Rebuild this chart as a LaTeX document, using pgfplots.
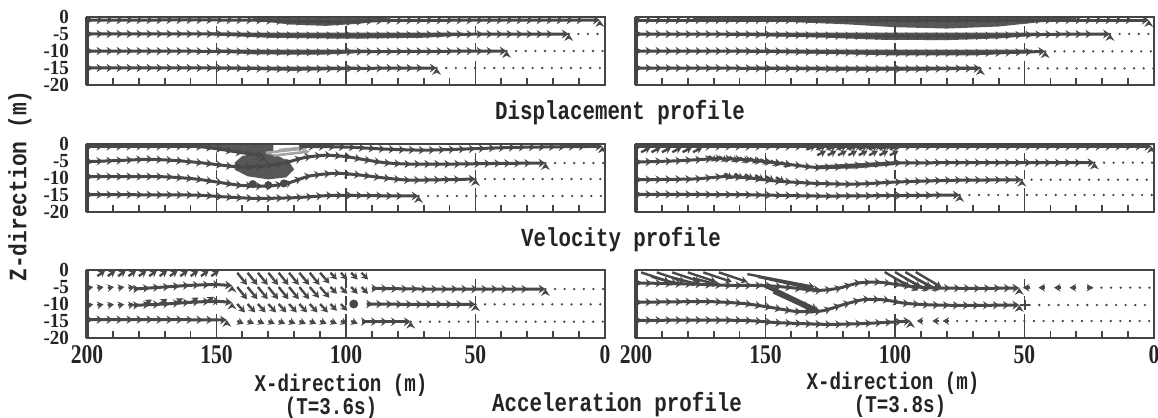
\documentclass[border=0pt]{standalone}
\usepackage{fontspec}
\usepackage{pgfplots}
\pgfplotsset{compat=1.18}
\usetikzlibrary{arrows.meta,decorations.markings}
\newfontfamily\labfont[FakeStretch=0.8]{Liberation Mono}
\newfontfamily\zfont[FakeStretch=0.85]{Liberation Mono}
\newfontfamily\tickfont[FakeStretch=0.8]{Liberation Serif}
\newfontfamily\ytickfont[FakeStretch=0.95]{Liberation Serif}
\definecolor{ink}{HTML}{484848}
\definecolor{frame}{HTML}{444444}
\definecolor{txt}{HTML}{242424}
\definecolor{streak}{HTML}{A5A5A5}

\pgfplotsset{
  panel/.style={
    scale only axis, width=259pt, height=34pt, anchor=south west,
    x dir=reverse, xmin=0, xmax=200, ymin=-20, ymax=0,
    xtick={0,50,100,150,200},
    minor xtick={10,20,30,40,60,70,80,90,110,120,130,140,160,170,180,190},
    ytick={-20,-15,-10,-5,0},
    xtick pos=bottom, ytick pos=left, tick align=inside,
    major tick length=12pt, minor tick length=3.5pt,
    ytick style={draw=none},
    xtick style={frame, line width=0.9pt},
    xticklabels={}, yticklabels={},
    axis line style={frame, line width=0.9pt},
    xticklabel style={font=\tickfont\bfseries\fontsize{13.5}{13.5}\selectfont, text=txt, yshift=0pt},
    yticklabel style={font=\ytickfont\bfseries\fontsize{10}{10}\selectfont, text=txt, xshift=-5.5pt, inner ysep=0pt},
    extra description/.code={
      \draw[frame, line width=2.4pt] (axis description cs:0,0) -- (axis description cs:0,1);
      \draw[frame, line width=1.3pt] (axis description cs:0,1) -- (axis description cs:1,1);
    },
  },
  chain/.style={ink, line width=1.5pt, line join=round, smooth, tension=0.4,
    -{Stealth[length=3.4pt,width=4.4pt]},
    postaction={decorate},
    decoration={markings, mark=between positions 3pt and -4pt step 5pt with {\arrow{Stealth[length=3.2pt,width=4.2pt]}}}},
  band/.style={fill=ink!92, draw=none},
  dotrow/.style={ink, line width=1.3pt, line cap=round, dash pattern=on 0pt off 4.8pt},
  vec/.style={ink, line width=1.2pt, -{Stealth[length=3.2pt,width=3.8pt]},
    quiver={u=\thisrow{u}, v=\thisrow{v}}},
  crossm/.style={only marks, mark=|, mark size=2.2pt, mark options={frame, line width=0.8pt}},
}

\begin{document}
\begin{tikzpicture}
\path[use as bounding box] (0,0) rectangle (579pt,209pt);

% ---------- displacement, T=3.6s
\begin{axis}[panel, at={(43.5pt,166.5pt)}, yticklabels={-20,-15,-10,-5,0}]
\addplot[band] coordinates {(136,-0.2)(84,-0.2)(84,-0.9)(95,-2.0)(108,-2.6)(122,-2.2)(136,-0.9)} -- cycle;
\addplot[band] coordinates {(152,-4.6)(55,-4.6)(55,-5.5)(70,-6.1)(100,-6.4)(130,-6.1)(152,-5.4)} -- cycle;
\addplot[band] coordinates {(150,-9.6)(92,-9.6)(92,-10.5)(110,-11.1)(135,-11)(150,-10.4)} -- cycle;
\addplot[band] coordinates {(148,-14.6)(96,-14.6)(96,-15.3)(120,-15.8)(148,-15.3)} -- cycle;
\addplot[chain] coordinates {(200,-0.9)(140,-0.9)(120,-1.3)(100,-1.4)(80,-1.0)(2,-0.9)};
\addplot[chain] coordinates {(200,-5)(150,-5)(120,-5.4)(90,-5.4)(60,-5.1)(14,-5)};
\addplot[chain] coordinates {(200,-10)(150,-10.1)(120,-10.4)(95,-10.2)(38,-10)};
\addplot[chain] coordinates {(200,-15)(150,-15)(120,-15.3)(95,-15.1)(65,-15)};
\addplot[dotrow] coordinates {(14,-5)(0,-5)};
\addplot[dotrow] coordinates {(38,-10)(0,-10)};
\addplot[dotrow] coordinates {(65,-15)(0,-15)};
\addplot[crossm] coordinates {(150,-4)(150,-9)(100,-4)(100,-9)(50,-4)(50,-9)};
\end{axis}

% ---------- displacement, T=3.8s
\begin{axis}[panel, at={(318pt,166.5pt)}]
\addplot[band] coordinates {(178,-0.2)(30,-0.2)(30,-0.8)(45,-1.6)(60,-2.8)(80,-3.4)(100,-3.0)(120,-2.1)(150,-1.2)(178,-0.7)} -- cycle;
\addplot[band] coordinates {(165,-4.6)(44,-4.6)(44,-5.4)(60,-6.3)(80,-6.8)(105,-6.7)(130,-6.0)(165,-5.4)} -- cycle;
\addplot[band] coordinates {(160,-9.6)(47,-9.6)(47,-10.5)(70,-11.3)(100,-11.3)(130,-10.8)(160,-10.4)} -- cycle;
\addplot[band] coordinates {(157,-14.6)(67,-14.6)(67,-15.3)(90,-15.8)(120,-15.8)(157,-15.3)} -- cycle;
\addplot[chain] coordinates {(200,-0.9)(120,-0.9)(60,-0.9)(2,-0.9)};
\addplot[chain] coordinates {(200,-5)(160,-5.1)(110,-5.6)(70,-5.6)(40,-5.1)(17,-5)};
\addplot[chain] coordinates {(200,-10)(150,-10.1)(100,-10.6)(60,-10.5)(42,-10.1)};
\addplot[chain] coordinates {(200,-15)(150,-15.1)(110,-15.3)(67,-15.1)};
\addplot[dotrow] coordinates {(17,-5)(0,-5)};
\addplot[dotrow] coordinates {(42,-10.1)(0,-10.1)};
\addplot[dotrow] coordinates {(67,-15.1)(0,-15.1)};
\addplot[crossm] coordinates {(150,-4)(150,-9)(100,-4)(100,-9)(50,-4)(50,-9)};
\end{axis}

% ---------- velocity, T=3.6s
\begin{axis}[panel, at={(43.5pt,103pt)}, yticklabels={-20,-15,-10,-5,0}]
\addplot[band] coordinates {(158,-0.2)(128,-0.2)(128,-2.6)(132,-3.5)(140,-2.8)(150,-1.6)(158,-0.6)} -- cycle;
\addplot[band] coordinates {(143,-5.5)(140,-3.5)(134,-2.8)(127,-3.2)(122,-5.2)(120,-7.5)(123,-9.8)(130,-10.4)(138,-9.5)(143,-7.5)} -- cycle;
\addplot[vec, streak, line width=1.3pt] table[row sep=\\] {x y u v\\
131 -2.6 -16 1.4\\ 128 -3.4 -14 1.2\\ 126 -1.8 -10 0.8\\};
\addplot[chain] coordinates {(200,-0.7)(160,-0.7)(150,-1.4)(140,-2.6)(132,-3.3)};
\addplot[chain] coordinates {(118,-0.7)(100,-0.9)(85,-1.5)(70,-1.8)(55,-1.5)(35,-1.0)(15,-0.8)(1,-0.7)};
\addplot[chain] coordinates {(200,-5.2)(186,-4.8)(176,-4.5)(165,-4.9)(155,-5.6)(146,-6.4)(140,-6.8)(132,-6.5)(124,-5.6)(116,-4.0)(108,-3.3)(100,-3.7)(93,-4.6)(85,-5.5)(76,-5.9)(60,-5.9)(40,-5.7)(23,-5.6)};
\addplot[chain] coordinates {(200,-9.6)(172,-9.6)(158,-10.3)(148,-11.4)(140,-12.2)(130,-12.4)(122,-11.4)(114,-9.4)(104,-8.6)(95,-9.1)(85,-10)(76,-10.6)(62,-10.5)(50,-10.3)};
\addplot[chain] coordinates {(200,-14.9)(160,-15)(148,-15.5)(135,-16)(120,-15.8)(105,-15.1)(90,-15.2)(72,-15.3)};
\addplot[only marks, mark=*, mark size=1.8pt, ink] coordinates {(136,-11.8)(130,-12.1)(124,-11.6)};
\addplot[dotrow] coordinates {(23,-5.6)(0,-5.6)};
\addplot[dotrow] coordinates {(50,-10.3)(0,-10.3)};
\addplot[dotrow] coordinates {(72,-15.3)(0,-15.3)};
\addplot[crossm] coordinates {(150,-4)(150,-9)(100,-4)(100,-9)(50,-4)(50,-9)};
\end{axis}

% ---------- velocity, T=3.8s
\begin{axis}[panel, at={(318pt,103pt)}]
\addplot[band] coordinates {(130,-6.3)(100,-5.1)(100,-6.2)(115,-7.2)(130,-7.4)} -- cycle;
\addplot[chain] coordinates {(200,-0.7)(100,-0.7)(1,-0.7)};
\addplot[vec] table[row sep=\\] {x y u v\\
198 -2.4 -3.6 1.4\\ 194 -2.4 -3.6 1.4\\ 190 -2.4 -3.6 1.4\\ 186 -2.4 -3.6 1.4\\ 182 -2.4 -3.6 1.4\\ 178 -2.4 -3.6 1.4\\
134 -1.6 -3.4 1.1\\ 130 -1.6 -3.4 1.1\\ 126 -1.6 -3.4 1.1\\ 122 -1.6 -3.4 1.1\\ 118 -1.6 -3.4 1.1\\ 114 -1.6 -3.4 1.1\\ 110 -1.6 -3.4 1.1\\ 106 -1.6 -3.4 1.1\\ 102 -1.6 -3.4 1.1\\
130 -3.3 -3.4 1.3\\ 126 -3.3 -3.4 1.3\\ 122 -3.3 -3.4 1.3\\ 118 -3.3 -3.4 1.3\\ 114 -3.3 -3.4 1.3\\ 110 -3.3 -3.4 1.3\\ 106 -3.3 -3.4 1.3\\ 102 -3.3 -3.4 1.3\\
172 -3.6 -3.5 -1.4\\ 168 -3.7 -3.5 -1.4\\ 164 -3.8 -3.5 -1.4\\ 160 -4.0 -3.5 -1.4\\ 156 -4.2 -3.5 -1.4\\ 152 -4.5 -3.5 -1.4\\ 148 -4.9 -3.5 -1.4\\ 144 -5.3 -3.5 -1.4\\
166 -8.8 -3.5 -1.4\\ 162 -8.8 -3.5 -1.4\\ 158 -9.0 -3.5 -1.4\\ 154 -9.2 -3.5 -1.4\\ 150 -9.5 -3.5 -1.4\\ 146 -9.8 -3.5 -1.4\\};
\addplot[chain] coordinates {(200,-5.3)(186,-5.0)(176,-4.6)(168,-4.3)(158,-4.6)(150,-5.2)(140,-6.1)(130,-6.9)(120,-6.6)(110,-6.0)(100,-5.6)(80,-5.5)(60,-5.5)(40,-5.5)(23,-5.5)};
\addplot[chain] coordinates {(200,-10.5)(178,-10.3)(166,-9.6)(156,-10.0)(146,-10.9)(130,-11.6)(115,-11.8)(100,-11.2)(80,-10.7)(65,-10.6)(51,-10.5)};
\addplot[chain] coordinates {(200,-14.8)(160,-14.9)(130,-15.3)(105,-15.2)(75,-15.0)};
\addplot[dotrow] coordinates {(23,-5.5)(0,-5.5)};
\addplot[dotrow] coordinates {(51,-10.5)(0,-10.5)};
\addplot[dotrow] coordinates {(75,-15)(0,-15)};
\addplot[crossm] coordinates {(150,-4)(150,-9)(100,-4)(100,-9)(50,-4)(50,-9)};
\end{axis}

% ---------- acceleration, T=3.6s
\begin{axis}[panel, at={(43.5pt,40pt)}, yticklabels={-20,-15,-10,-5,0},
  xticklabels={0,50,100,150,200}]
\addplot[vec] table[row sep=\\] {x y u v\\
196 -1.8 -3 1.6\\ 192 -1.8 -3 1.6\\ 188 -1.8 -3 1.6\\ 184 -1.8 -3 1.6\\ 180 -1.8 -3 1.6\\ 176 -1.8 -3 1.6\\
172 -1.8 -3 1.6\\ 168 -1.8 -3 1.6\\ 164 -1.8 -3 1.6\\ 160 -1.8 -3 1.6\\ 156 -1.8 -3 1.6\\ 152 -1.8 -3 1.6\\
200 -5.3 -2.4 0.3\\ 196 -5.3 -2.4 0.3\\ 192 -5.3 -2.4 0.3\\ 188 -5.3 -2.4 0.3\\ 184 -5.3 -2.4 0.3\\
200 -10.4 -2.4 0.3\\ 196 -10.4 -2.4 0.3\\ 192 -10.4 -2.4 0.3\\ 188 -10.4 -2.4 0.3\\ 184 -10.4 -2.4 0.3\\
178 -10.2 -3 1.5\\ 172 -10.0 -3 1.5\\ 166 -9.8 -3 1.5\\ 160 -9.6 -3 1.5\\ 154 -9.4 -3 1.5\\
142 -0.8 -3.8 -3.6\\ 138 -0.8 -3.8 -3.6\\ 134 -0.8 -3.8 -3.6\\ 130 -0.8 -3.8 -3.6\\ 126 -0.8 -3.8 -3.6\\ 122 -0.8 -3.8 -3.6\\ 118 -0.8 -3.8 -3.6\\ 114 -0.8 -3.8 -3.6\\ 110 -0.8 -3.6 -3.2\\ 106 -0.8 -2.5 -2\\ 102 -0.8 -2.5 -2\\ 98 -0.8 -2.5 -2\\ 94 -0.8 -2.5 -2\\
142 -5 -3.8 -3.6\\ 138 -5 -3.8 -3.6\\ 134 -5 -3.8 -3.6\\ 130 -5 -3.8 -3.6\\ 126 -5 -3.8 -3.6\\ 122 -5 -3.8 -3.6\\ 118 -5 -3.8 -3.6\\ 114 -5 -3.6 -3.2\\ 110 -5 -3.6 -3.2\\ 106 -5 -2.5 -2\\ 102 -5 -2.5 -2\\ 98 -5 -2.5 -2\\ 94 -5 -2.5 -2\\
142 -10 -3 -2.5\\ 138 -10 -3 -2.5\\ 134 -10 -3 -2.5\\ 130 -10 -3 -2.5\\ 126 -10 -3 -2.5\\ 122 -10 -3 -2.5\\ 118 -10 -3 -2.5\\ 114 -10 -3 -2.5\\ 110 -10 -3 -2.5\\ 106 -10 -2.5 -2\\ 102 -10 -2.5 -2\\
142 -15 -2.5 -0.8\\ 138 -15 -2.5 -0.8\\ 134 -15 -2.5 -0.8\\ 130 -15 -2.5 -0.8\\ 126 -15 -2.5 -0.8\\ 122 -15 -2.5 -0.8\\ 118 -15 -2.5 -0.8\\ 114 -15 -2.5 -0.8\\ 110 -15 -2.5 -0.8\\ 106 -15 -2.5 -0.8\\ 102 -15 -2.5 -0.8\\ 98 -15 -2.5 -0.8\\};
\addplot[chain] coordinates {(182,-5.6)(170,-5.0)(160,-4.5)(150,-4.3)(144,-4.6)};
\addplot[chain] coordinates {(182,-10.4)(170,-10.0)(160,-9.5)(150,-9.2)(144,-9.6)};
\addplot[chain] coordinates {(200,-14.6)(170,-14.6)(146,-14.7)};
\addplot[chain] coordinates {(90,-5.4)(70,-5.6)(50,-5.6)(23,-5.6)};
\addplot[chain] coordinates {(92,-10.0)(75,-10.1)(50,-10.1)};
\addplot[chain] coordinates {(94,-15.2)(75,-15.2)};
\addplot[only marks, mark=*, mark size=2pt, ink] coordinates {(97,-10)};
\addplot[dotrow] coordinates {(23,-5.6)(0,-5.6)};
\addplot[dotrow] coordinates {(50,-10.1)(0,-10.1)};
\addplot[dotrow] coordinates {(75,-15.2)(0,-15.2)};
\addplot[crossm] coordinates {(150,-4)(150,-9)(100,-4)(100,-9)(50,-4)(50,-9)};
\end{axis}

% ---------- acceleration, T=3.8s
\begin{axis}[panel, at={(318pt,40pt)}, xticklabels={0,50,100,150,200}]
\addplot[vec] table[row sep=\\] {x y u v\\
198 -0.7 -11 -2.8\\ 192 -0.7 -11 -2.8\\ 186 -0.7 -11 -2.8\\ 180 -0.7 -11 -2.8\\ 174 -0.7 -11 -2.8\\ 168 -0.7 -11 -2.8\\
194 -2.0 -10 -2.0\\ 186 -2.2 -10 -2.0\\ 178 -2.4 -10 -2.0\\
157 -1.2 -26 -3.8\\ 153 -2.0 -24 -4.0\\ 152 -4.2 -19 -6.8\\ 148 -5.0 -18 -6.6\\ 147 -6.6 -17 -6.0\\ 143 -7.2 -14 -5.2\\
104 -0.6 -10 -4.5\\ 100 -0.6 -10 -4.5\\ 96 -0.6 -10 -4.5\\ 92 -0.6 -10 -4.5\\
100 -2.5 -9 -3.5\\ 96 -2.5 -9 -3.5\\ 92 -2.5 -9 -3.5\\
48 -5.2 2.6 0\\ 42 -5.2 2.6 0\\ 36 -5.2 2.6 0\\ 30 -5.2 2.6 0\\ 26 -5.2 -2.5 0\\
89 -15.0 2.6 0\\ 83 -15.0 2.6 0\\ 79 -15.0 2.6 0\\};
\addplot[chain] coordinates {(200,-3.8)(180,-4.1)(165,-4.5)(150,-4.6)(140,-5.2)(130,-6.0)(122,-5.4)(114,-3.8)(106,-3.6)(98,-4.4)(88,-5.2)(70,-5.4)(52,-5.3)};
\addplot[chain] coordinates {(200,-9.5)(172,-9.3)(158,-9.9)(148,-11.0)(138,-12.2)(128,-12.0)(120,-10.2)(112,-8.7)(104,-8.8)(96,-9.8)(85,-10.3)(70,-10.4)(52,-10.3)};
\addplot[chain] coordinates {(200,-14.8)(160,-14.8)(145,-15.5)(125,-16.0)(108,-15.6)(94,-15.0)};
\addplot[only marks, mark=+, mark size=2.5pt, mark options={ink, line width=1pt}] coordinates {(50,-10.3)};
\addplot[dotrow] coordinates {(24,-5.2)(0,-5.2)};
\addplot[dotrow] coordinates {(48,-10.3)(0,-10.3)};
\addplot[dotrow] coordinates {(76,-15)(0,-15)};
\addplot[crossm] coordinates {(150,-4)(150,-9)(100,-4)(100,-9)(50,-4)(50,-9)};
\end{axis}

\begin{scope}[every node/.style={text=txt, inner sep=0pt}]
\node[font=\labfont\bfseries\fontsize{13}{13}\selectfont] at (310pt,152.5pt) {Displacement profile};
\node[font=\labfont\bfseries\fontsize{13}{13}\selectfont] at (310.5pt,89pt) {Velocity profile};
\node[font=\labfont\bfseries\fontsize{13}{13}\selectfont] at (308.5pt,6.5pt) {Acceleration profile};
\node[font=\labfont\bfseries\fontsize{12}{12}\selectfont] at (170.5pt,16.5pt) {X-direction (m)};
\node[font=\labfont\bfseries\fontsize{12}{12}\selectfont] at (165.5pt,5pt) {(T=3.6s)};
\node[font=\labfont\bfseries\fontsize{12}{12}\selectfont] at (446.5pt,17.5pt) {X-direction (m)};
\node[font=\labfont\bfseries\fontsize{12}{12}\selectfont] at (450pt,6pt) {(T=3.8s)};
\node[font=\zfont\bfseries\fontsize{12.5}{12.5}\selectfont, rotate=90] at (10pt,116pt) {Z-direction (m)};
\end{scope}
\end{tikzpicture}
\end{document}
